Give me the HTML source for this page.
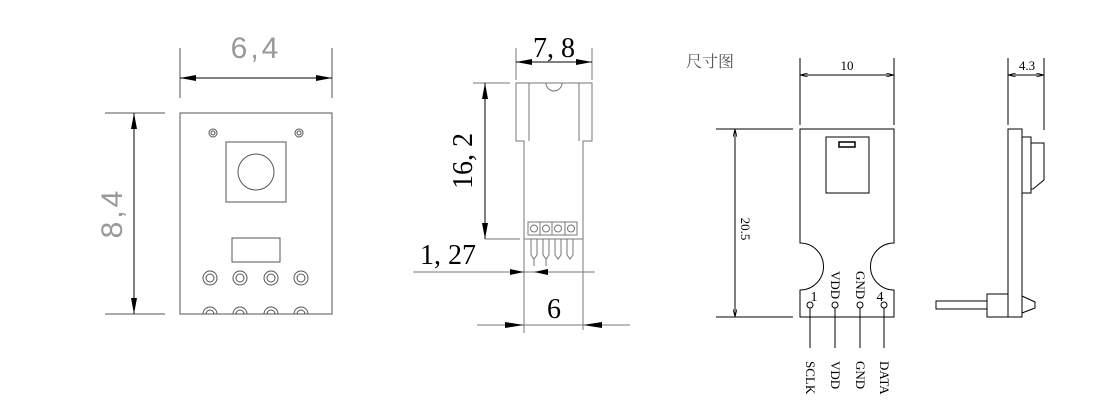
<!DOCTYPE html>
<html><head><meta charset="utf-8"><style>
html,body{margin:0;padding:0;background:#fff;}
svg{display:block;}
</style></head><body>
<svg width="1113" height="401" viewBox="0 0 1113 401" xmlns="http://www.w3.org/2000/svg">
<defs>
<marker id="ab" viewBox="0 0 16 6" refX="16" refY="3" markerWidth="16" markerHeight="6" markerUnits="userSpaceOnUse" orient="auto-start-reverse"><path d="M0,0L16,3L0,6z" fill="#000"/></marker>
<marker id="as" viewBox="0 0 8 4" refX="8" refY="2" markerWidth="8" markerHeight="4" markerUnits="userSpaceOnUse" orient="auto-start-reverse"><path d="M0,0L8,2L0,4" fill="none" stroke="#000" stroke-width="0.8"/></marker>
</defs>

<!-- LEFT: 6,4 x 8,4 -->
<g stroke="#555" stroke-width="1" fill="none">
<line x1="180" y1="48" x2="180" y2="98"/>
<line x1="332" y1="48" x2="332" y2="98"/>
<line x1="180" y1="78" x2="332" y2="78" stroke="#000" marker-start="url(#ab)" marker-end="url(#ab)"/>
<line x1="105" y1="113" x2="165" y2="113"/>
<line x1="105" y1="314" x2="165" y2="314"/>
<line x1="134" y1="113" x2="134" y2="314" stroke="#000" marker-start="url(#ab)" marker-end="url(#ab)"/>
<rect x="180" y="113" width="152" height="201"/>
<circle cx="213" cy="133" r="4"/><circle cx="213" cy="133" r="2"/>
<circle cx="299" cy="133" r="4"/><circle cx="299" cy="133" r="2"/>
<rect x="226" y="142" width="60" height="60"/>
<circle cx="256" cy="172" r="18"/>
<rect x="232" y="238" width="48" height="24"/>
<g>
<circle cx="210" cy="278" r="7"/><circle cx="210" cy="278" r="4"/>
<circle cx="240" cy="278" r="7"/><circle cx="240" cy="278" r="4"/>
<circle cx="271" cy="278" r="7"/><circle cx="271" cy="278" r="4"/>
<circle cx="301" cy="278" r="7"/><circle cx="301" cy="278" r="4"/>
<path d="M203,314a7,7 0 0 1 14,0M206,314a4,4 0 0 1 8,0"/>
<path d="M233,314a7,7 0 0 1 14,0M236,314a4,4 0 0 1 8,0"/>
<path d="M264,314a7,7 0 0 1 14,0M267,314a4,4 0 0 1 8,0"/>
<path d="M294,314a7,7 0 0 1 14,0M297,314a4,4 0 0 1 8,0"/>
</g>
</g>
<text x="256" y="58" text-anchor="middle" font-family="Liberation Sans, sans-serif" font-size="30" fill="#999" letter-spacing="3">6,4</text>
<text transform="translate(122,213) rotate(-90)" text-anchor="middle" font-family="Liberation Sans, sans-serif" font-size="30" fill="#999" letter-spacing="3">8,4</text>

<!-- MIDDLE -->
<g stroke="#777" stroke-width="1" fill="none">
<line x1="516" y1="48" x2="516" y2="80"/>
<line x1="592" y1="48" x2="592" y2="80"/>
<line x1="516" y1="62" x2="592" y2="62" stroke="#000" marker-start="url(#ab)" marker-end="url(#ab)"/>
<line x1="473" y1="83" x2="510" y2="83"/>
<line x1="485" y1="239" x2="520" y2="239"/>
<line x1="485" y1="83" x2="485" y2="239" stroke="#000" marker-start="url(#ab)" marker-end="url(#ab)"/>
<path d="M516,83H592V141H583V239H524V141H516Z"/>
<path d="M529,83V141M579,83V141"/>
<path d="M546,83a8,8 0 0 0 16,0"/>
<rect x="528" y="222" width="49" height="13"/>
<line x1="540" y1="222" x2="540" y2="235"/><line x1="552" y1="222" x2="552" y2="235"/><line x1="565" y1="222" x2="565" y2="235"/>
<circle cx="534" cy="228.5" r="3.5"/><circle cx="546" cy="228.5" r="3.5"/><circle cx="558" cy="228.5" r="3.5"/><circle cx="571" cy="228.5" r="3.5"/>
<path d="M531,239V255L534,259L537,255V239M543,239V255L546,259L549,255V239M555,239V255L558,259L561,255V239M567,239V255L570,259L573,255V239"/>
<path d="M534,259V266M546,259V266"/>
<line x1="524" y1="225" x2="524" y2="333"/>
<line x1="583" y1="225" x2="583" y2="330"/>
<line x1="413" y1="272" x2="595" y2="272"/>
<line x1="477" y1="325" x2="630" y2="325"/>
</g>
<path d="M510,269L524,272L510,275z M548,269L534,272L548,275z" fill="#000"/>
<path d="M505,322L524,325L505,328z M602,322L583,325L602,328z" fill="#000"/>
<g font-family="Liberation Serif, serif" fill="#000">
<text x="554" y="57" text-anchor="middle" font-size="28">7, 8</text>
<text transform="translate(472,161) rotate(-90)" text-anchor="middle" font-size="28">16, 2</text>
<text x="448" y="264" text-anchor="middle" font-size="28">1, 27</text>
<text x="554" y="318" text-anchor="middle" font-size="28">6</text>
</g>

<!-- RIGHT -->
<text x="686" y="67" font-family="Noto Serif CJK SC, serif" font-size="16" fill="#555">尺寸图</text>
<g stroke="#000" stroke-width="1" fill="none">
<line x1="800" y1="58" x2="800" y2="125"/>
<line x1="894" y1="58" x2="894" y2="125"/>
<line x1="800" y1="75" x2="894" y2="75" marker-start="url(#as)" marker-end="url(#as)"/>
<line x1="716" y1="129" x2="793" y2="129"/>
<line x1="716" y1="317" x2="793" y2="317"/>
<line x1="735" y1="129" x2="735" y2="317" marker-start="url(#as)" marker-end="url(#as)"/>
<path d="M800,129H894V243A23.5,23.5 0 0 0 894,290V317H800V290A23.5,23.5 0 0 0 800,243Z"/>
<rect x="826" y="137" width="43" height="56"/>
<rect x="839" y="142" width="16" height="5" stroke-width="1.5"/>
<circle cx="810" cy="305" r="3"/><circle cx="835" cy="305" r="3"/><circle cx="860" cy="305" r="3"/><circle cx="884" cy="305" r="3"/>
<path d="M810,308V348M835,308V348M860,308V348M884,308V348"/>
<line x1="1008" y1="58" x2="1008" y2="125"/>
<line x1="1044" y1="58" x2="1044" y2="130"/>
<line x1="1008" y1="75" x2="1044" y2="75" marker-start="url(#as)" marker-end="url(#as)"/>
<rect x="1008" y="129" width="14" height="188"/>
<rect x="1022" y="137" width="9" height="56"/>
<path d="M1031,143H1044V180L1033,189H1031"/>
<rect x="987" y="294" width="21" height="23"/>
<rect x="936" y="301" width="51" height="8"/>
<path d="M1022,296L1035,302V308L1022,313"/>
</g>
<g font-family="Liberation Serif, serif" fill="#000" font-size="13">
<text x="847" y="70" text-anchor="middle">10</text>
<text x="1027" y="70" text-anchor="middle">4.3</text>
<text transform="translate(741,229) rotate(90)" text-anchor="middle">20.5</text>
<text x="814" y="301" text-anchor="middle" font-size="14">1</text>
<text x="880" y="301" text-anchor="middle" font-size="14">4</text>
<text transform="translate(831,271) rotate(90)">VDD</text>
<text transform="translate(856,271) rotate(90)">GND</text>
<text transform="translate(806,361) rotate(90)">SCLK</text>
<text transform="translate(831,361) rotate(90)">VDD</text>
<text transform="translate(856,361) rotate(90)">GND</text>
<text transform="translate(880,361) rotate(90)">DATA</text>
</g>
</svg>
</body></html>
